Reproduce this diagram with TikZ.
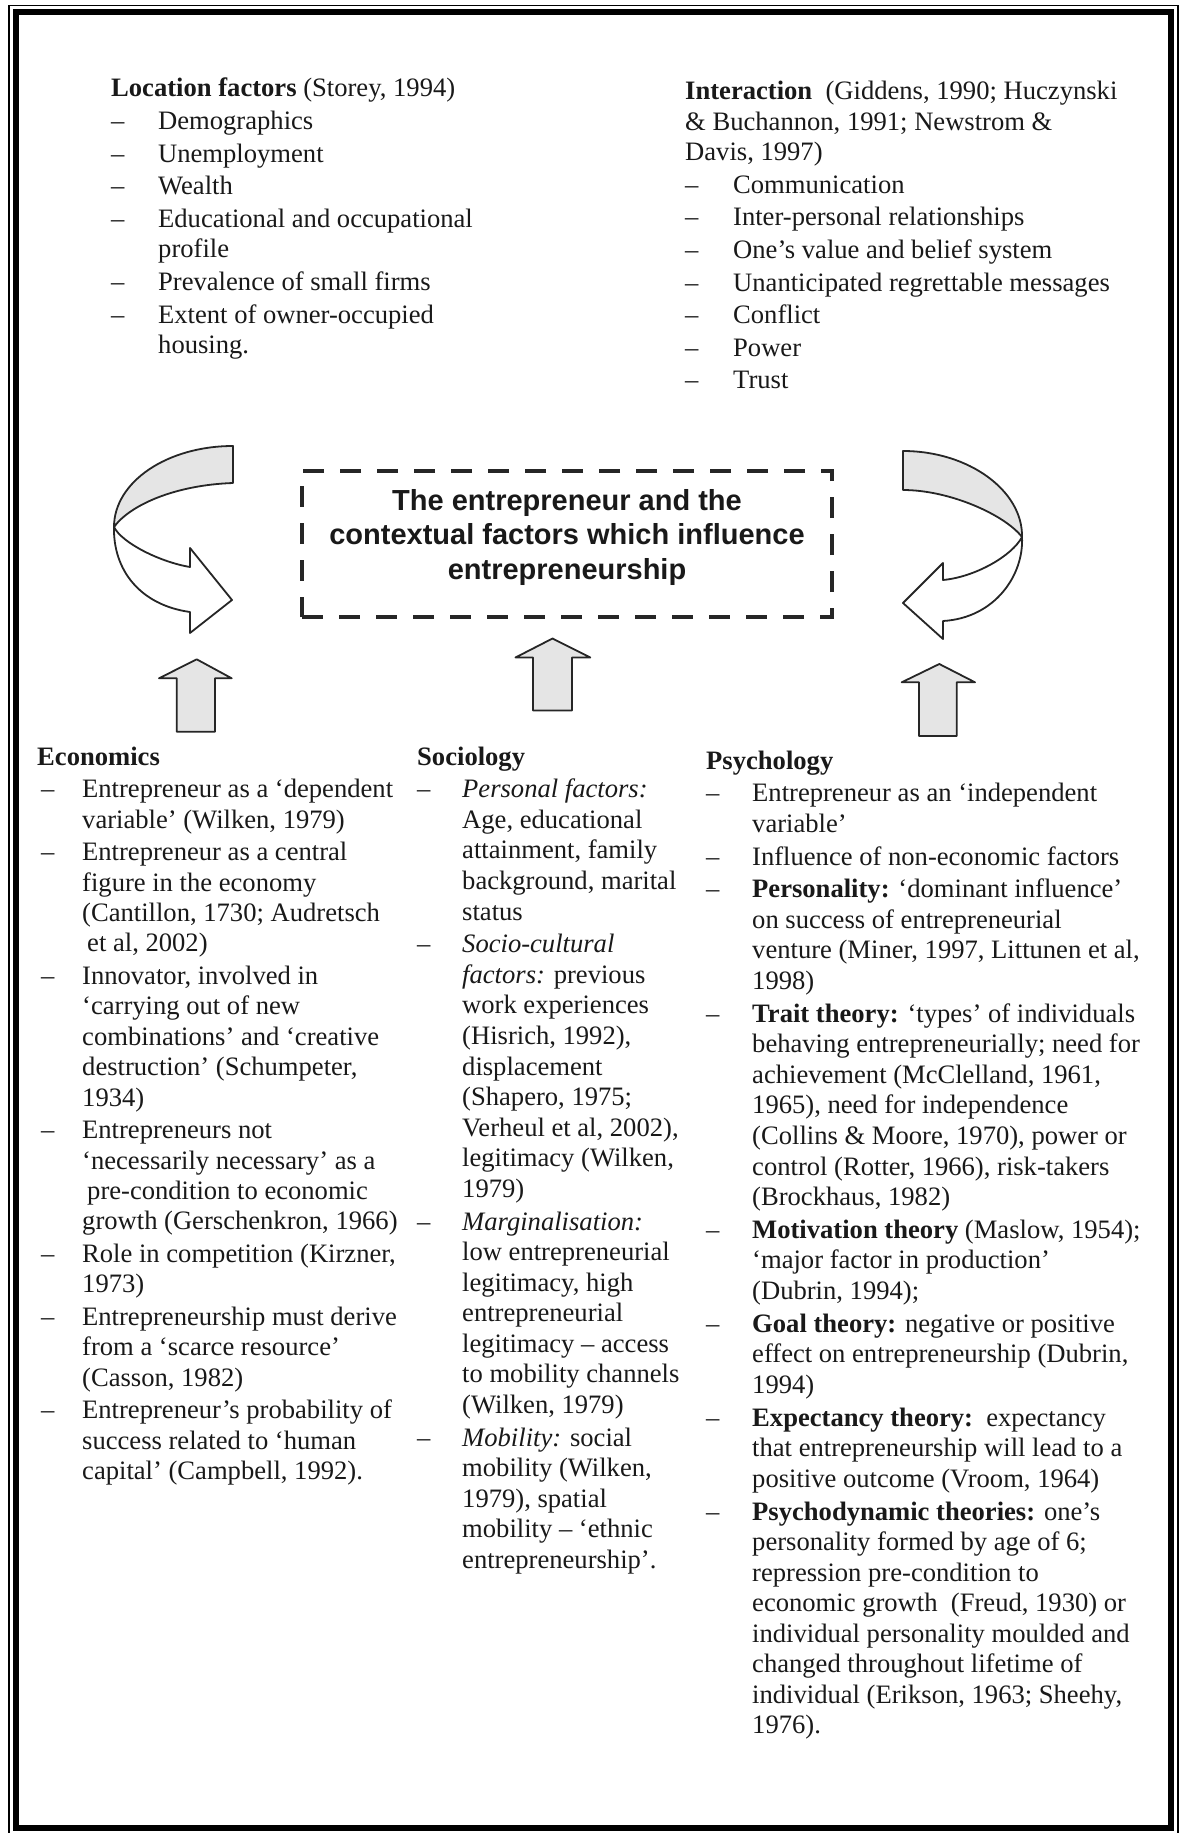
\documentclass[tikz,border=0pt]{standalone}
\usepackage{fontspec}
\setmainfont{Liberation Serif}
\newfontfamily\titlefont{Liberation Sans}
\usepackage{array}
\newcommand{\itemgap}{2.2pt}
\begin{document}
\begin{tikzpicture}[x=1pt,y=-1pt,
  blocktext/.style={anchor=base west, inner sep=0pt, text=black!90,
    font=\fontsize{26.6}{30.4}\selectfont},
  blocktextb/.style={anchor=base west, inner sep=0pt, text=black!90,
    font=\fontsize{26.6}{30.56}\selectfont},
  arrowgrey/.style={draw=black!85, line width=1.8pt, fill=black!10, line join=round},
  arrowwhite/.style={draw=black!85, line width=1.8pt, fill=white, line join=round},
  titlebox/.style={draw=black!85, line width=3.5pt, dash pattern=on 21pt off 16pt,
    minimum width=530pt, minimum height=146pt, inner sep=0pt}
]
\useasboundingbox (0,0) rectangle (1183,1833);
\fill[white] (0,0) rectangle (1183,1833);

% frame
\draw[line width=6pt] (16,12.5) rectangle (1171,1828);
\draw[line width=1.5pt] (9,1833) -- (9,5.5) -- (1178,5.5) -- (1178,1833);

% top-left block
\node[blocktext] (loc) at (111,97) {\begin{tabular}[t]{@{}p{47pt}@{}l@{}}
\multicolumn{2}{@{}l@{}}{\textbf{Location factors} (Storey, 1994)}\\[\itemgap]
– & Demographics\\[\itemgap]
– & Unemployment\\[\itemgap]
– & Wealth\\[\itemgap]
– & Educational and occupational\\
  & profile\\[\itemgap]
– & Prevalence of small firms\\[\itemgap]
– & Extent of owner-occupied\\
  & housing.
\end{tabular}};

% top-right block
\node[blocktext] (inter) at (685,100) {\begin{tabular}[t]{@{}p{48pt}@{}l@{}}
\multicolumn{2}{@{}l@{}}{\textbf{Interaction}\ \ (Giddens, 1990; Huczynski}\\
\multicolumn{2}{@{}l@{}}{\& Buchannon, 1991; Newstrom \&}\\
\multicolumn{2}{@{}l@{}}{Davis, 1997)}\\[\itemgap]
– & Communication\\[\itemgap]
– & Inter-personal relationships\\[\itemgap]
– & One’s value and belief system\\[\itemgap]
– & Unanticipated regrettable messages\\[\itemgap]
– & Conflict\\[\itemgap]
– & Power\\[\itemgap]
– & Trust
\end{tabular}};

% curved arrow left
\filldraw[arrowgrey] (233,446) .. controls (167,446) and (114,482) .. (114,527)
  .. controls (130,505) and (175,485) .. (233,483) -- cycle;
\filldraw[arrowwhite] (114,527) .. controls (122,543) and (160,562) .. (190,567)
  -- (190,548) -- (232,600) -- (190,633) -- (190,612)
  .. controls (140,605) and (113,570) .. (114,527) -- cycle;

% curved arrow right
\filldraw[arrowgrey] (903,451) .. controls (969,451) and (1023,491) .. (1022,537)
  .. controls (1005,515) and (950,490) .. (903,490) -- cycle;
\filldraw[arrowwhite] (1022,537) .. controls (1012,556) and (975,577) .. (943,580)
  -- (943,563) -- (903,603) -- (943,639) -- (943,621)
  .. controls (995,618) and (1024,575) .. (1022,537) -- cycle;

% central dashed box
\node[titlebox] (box) at (567,544) {};
\node[anchor=base, inner sep=0pt, text=black!90,
  font=\titlefont\bfseries\fontsize{29}{34.5}\selectfont] (title) at (567,510)
  {\begin{tabular}[t]{@{}c@{}}
  The entrepreneur and the\\
  contextual factors which influence\\
  entrepreneurship
  \end{tabular}};

% up arrows
\filldraw[arrowgrey] (196.7,659.3) -- (231.7,678.3) -- (215,678.3) -- (215,731.7)
  -- (176.7,731.7) -- (176.7,678.3) -- (159,678.3) -- cycle;
\filldraw[arrowgrey] (552.5,638.5) -- (590.3,657.5) -- (572,657.5) -- (572,710.5)
  -- (533,710.5) -- (533,657.5) -- (515.5,657.5) -- cycle;
\filldraw[arrowgrey] (939.3,664) -- (975,682.3) -- (956.7,682.3) -- (956.7,736)
  -- (919,736) -- (919,682.3) -- (901.7,682.3) -- cycle;

% Economics
\node[blocktext] (econ) at (37,765) {\begin{tabular}[t]{@{}p{45pt}@{}l@{}}
\multicolumn{2}{@{}l@{}}{\textbf{Economics}}\\[\itemgap]
\hspace{4pt}– & Entrepreneur as a ‘dependent\\
  & variable’ (Wilken, 1979)\\[\itemgap]
\hspace{4pt}– & Entrepreneur as a central\\
  & figure in the economy\\
  & (Cantillon, 1730; Audretsch\\
  & \hspace{5pt}et al, 2002)\\[\itemgap]
\hspace{4pt}– & Innovator, involved in\\
  & ‘carrying out of new\\
  & combinations’ and ‘creative\\
  & destruction’ (Schumpeter,\\
  & 1934)\\[\itemgap]
\hspace{4pt}– & Entrepreneurs not\\
  & ‘necessarily necessary’ as a\\
  & \hspace{5pt}pre-condition to economic\\
  & growth (Gerschenkron, 1966)\\[\itemgap]
\hspace{4pt}– & Role in competition (Kirzner,\\
  & 1973)\\[\itemgap]
\hspace{4pt}– & Entrepreneurship must derive\\
  & from a ‘scarce resource’\\
  & (Casson, 1982)\\[\itemgap]
\hspace{4pt}– & Entrepreneur’s probability of\\
  & success related to ‘human\\
  & capital’ (Campbell, 1992).
\end{tabular}};

% Sociology
\node[blocktextb] (soc) at (417,765) {\begin{tabular}[t]{@{}p{45pt}@{}l@{}}
\multicolumn{2}{@{}l@{}}{\textbf{Sociology}}\\[\itemgap]
– & \textit{Personal factors:}\\
  & Age, educational\\
  & attainment, family\\
  & background, marital\\
  & status\\[\itemgap]
– & \textit{Socio-cultural}\\
  & \textit{factors:} previous\\
  & work experiences\\
  & (Hisrich, 1992),\\
  & displacement\\
  & (Shapero, 1975;\\
  & Verheul et al, 2002),\\
  & legitimacy (Wilken,\\
  & 1979)\\[\itemgap]
– & \textit{Marginalisation:}\\
  & low entrepreneurial\\
  & legitimacy, high\\
  & entrepreneurial\\
  & legitimacy – access\\
  & to mobility channels\\
  & (Wilken, 1979)\\[\itemgap]
– & \textit{Mobility:} social\\
  & mobility (Wilken,\\
  & 1979), spatial\\
  & mobility – ‘ethnic\\
  & entrepreneurship’.
\end{tabular}};

% Psychology
\node[blocktextb] (psy) at (706,769) {\begin{tabular}[t]{@{}p{46pt}@{}l@{}}
\multicolumn{2}{@{}l@{}}{\textbf{Psychology}}\\[\itemgap]
– & Entrepreneur as an ‘independent\\
  & variable’\\[\itemgap]
– & Influence of non-economic factors\\[\itemgap]
– & \textbf{Personality:} ‘dominant influence’\\
  & on success of entrepreneurial\\
  & venture (Miner, 1997, Littunen et al,\\
  & 1998)\\[\itemgap]
– & \textbf{Trait theory:} ‘types’ of individuals\\
  & behaving entrepreneurially; need for\\
  & achievement (McClelland, 1961,\\
  & 1965), need for independence\\
  & (Collins \& Moore, 1970), power or\\
  & control (Rotter, 1966), risk-takers\\
  & (Brockhaus, 1982)\\[\itemgap]
– & \textbf{Motivation theory} (Maslow, 1954);\\
  & ‘major factor in production’\\
  & (Dubrin, 1994);\\[\itemgap]
– & \textbf{Goal theory:} negative or positive\\
  & effect on entrepreneurship (Dubrin,\\
  & 1994)\\[\itemgap]
– & \textbf{Expectancy theory:}\ \ expectancy\\
  & that entrepreneurship will lead to a\\
  & positive outcome (Vroom, 1964)\\[\itemgap]
– & \textbf{Psychodynamic theories:} one’s\\
  & personality formed by age of 6;\\
  & repression pre-condition to\\
  & economic growth\ \ (Freud, 1930) or\\
  & individual personality moulded and\\
  & changed throughout lifetime of\\
  & individual (Erikson, 1963; Sheehy,\\
  & 1976).
\end{tabular}};
\end{tikzpicture}
\end{document}
